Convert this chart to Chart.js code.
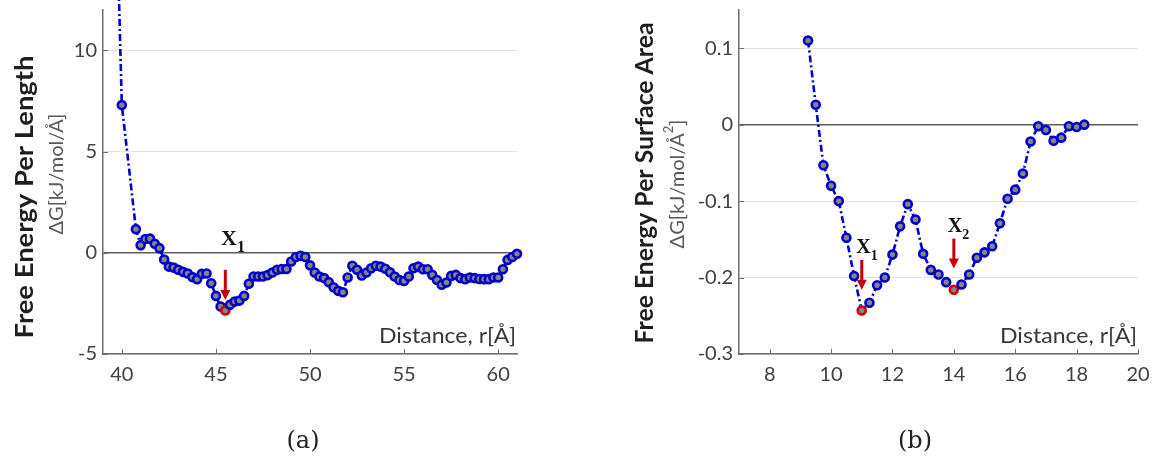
<!DOCTYPE html>
<html><head><meta charset="utf-8">
<script src="https://cdn.jsdelivr.net/npm/chart.js@4.4.1/dist/chart.umd.min.js"></script>
<style>
html,body{margin:0;padding:0;background:#fff;width:1152px;height:465px;overflow:hidden}
canvas{position:absolute;top:0}
#ca{left:0}#cb{left:576px}
</style></head><body>
<canvas id="ca" width="576" height="465"></canvas>
<canvas id="cb" width="576" height="465"></canvas>
<script>
// ---- (a) Free energy per length ----
const distanceA = [39.75, 40, 40.75, 41, 41.25, 41.5, 41.75, 42, 42.25, 42.5, 42.75, 43, 43.25, 43.5, 43.75, 44, 44.25, 44.5, 44.75,
  45, 45.25, 45.5, 45.75, 46, 46.25, 46.5, 46.75, 47, 47.25, 47.5, 47.75, 48, 48.25, 48.5, 48.75, 49, 49.25, 49.5, 49.75,
  50, 50.25, 50.5, 50.75, 51, 51.25, 51.5, 51.75, 52, 52.25, 52.5, 52.75, 53, 53.25, 53.5, 53.75, 54, 54.25, 54.5, 54.75,
  55, 55.25, 55.5, 55.75, 56, 56.25, 56.5, 56.75, 57, 57.25, 57.5, 57.75, 58, 58.25, 58.5, 58.75, 59, 59.25, 59.5, 59.75,
  60, 60.25, 60.5, 60.75, 61];
const energyA = [16, 7.3, 1.17, 0.38, 0.68, 0.7, 0.45, 0.23, -0.33, -0.68, -0.73, -0.84, -0.94, -1.02, -1.2, -1.3, -1.04, -1.02, -1.5,
  -2.13, -2.65, -2.85, -2.57, -2.41, -2.36, -2.13, -1.53, -1.17, -1.17, -1.17, -1.1, -0.97, -0.84, -0.8, -0.8, -0.43, -0.21, -0.15, -0.21,
  -0.62, -0.97, -1.17, -1.25, -1.45, -1.7, -1.88, -1.95, -1.22, -0.64, -0.84, -1.12, -0.97, -0.76, -0.64, -0.68, -0.79, -0.96, -1.17, -1.34,
  -1.39, -1.17, -0.76, -0.68, -0.81, -0.81, -1.09, -1.34, -1.58, -1.47, -1.14, -1.09, -1.25, -1.3, -1.22, -1.25, -1.29, -1.3, -1.3, -1.22,
  -1.22, -0.81, -0.35, -0.21, -0.05];
const minimaA = [45.5];
const xTicksA = [40, 45, 50, 55, 60];
const yTicksA = [-5, 0, 5, 10];

// ---- (b) Free energy per surface area ----
const distanceB = [9.25, 9.5, 9.75, 10, 10.25, 10.5, 10.75, 11, 11.25, 11.5, 11.75, 12, 12.25, 12.5, 12.75, 13, 13.25, 13.5, 13.75,
  14, 14.25, 14.5, 14.75, 15, 15.25, 15.5, 15.75, 16, 16.25, 16.5, 16.75, 17, 17.25, 17.5, 17.75, 18, 18.25];
const energyB = [0.110, 0.026, -0.053, -0.080, -0.100, -0.148, -0.198, -0.243, -0.233, -0.210, -0.200, -0.170, -0.133, -0.104, -0.124,
  -0.169, -0.190, -0.196, -0.206, -0.216, -0.209, -0.196, -0.174, -0.167, -0.159, -0.129, -0.097, -0.085, -0.064, -0.022, -0.002,
  -0.007, -0.021, -0.017, -0.002, -0.003, 0.000];
const minimaB = [11, 14];
const xTicksB = [8, 10, 12, 14, 16, 18, 20];
const yTicksB = [-0.3, -0.2, -0.1, 0, 0.1];

const BLUE = '#0000cc', RED = '#d00000', TICKCOL = '#404040';

// draw text horizontally stretched/compressed to a target width (text stays text)
function fitText(ctx, text, x, y, font, target) {
  ctx.font = font;
  const w = ctx.measureText(text).width;
  const k = target / w;
  ctx.save(); ctx.translate(x, y); ctx.scale(k, 1);
  ctx.fillText(text, 0, 0);
  ctx.restore();
}

const decorPlugin = {
  id: 'decor',
  afterDraw(chart, args, o) {
    const ctx = chart.ctx, a = chart.chartArea, xs = chart.scales.x, ys = chart.scales.y;
    ctx.save();
    // inward tick marks
    ctx.strokeStyle = '#6e6e6e'; ctx.lineWidth = 1;
    xs.ticks.forEach(t => {
      const px = Math.round(xs.getPixelForValue(t.value)) + 0.5;
      ctx.beginPath(); ctx.moveTo(px, a.bottom); ctx.lineTo(px, a.bottom - 5); ctx.stroke();
    });
    ys.ticks.forEach(t => {
      const py = Math.round(ys.getPixelForValue(t.value)) + 0.5;
      ctx.beginPath(); ctx.moveTo(a.left, py); ctx.lineTo(a.left + 5, py); ctx.stroke();
    });
    // y titles
    ctx.save();
    ctx.translate(o.titlePos[0], o.titlePos[1]); ctx.rotate(-Math.PI / 2);
    ctx.fillStyle = '#1e1e1e'; ctx.textAlign = 'center'; ctx.textBaseline = 'middle';
    fitText(ctx, o.title, 0, 0, 'bold 24px Lato', o.titleLen);
    ctx.restore();
    ctx.save();
    ctx.translate(o.unitPos[0], o.unitPos[1]); ctx.rotate(-Math.PI / 2);
    ctx.fillStyle = '#595959'; ctx.textBaseline = 'middle'; ctx.textAlign = 'left';
    ctx.font = '20px Lato';
    const w1 = ctx.measureText(o.unit[0]).width;
    ctx.font = '13px Lato';
    const w2 = o.unit[1] ? ctx.measureText(o.unit[1]).width : 0;
    ctx.font = '20px Lato';
    const w3 = o.unit[2] ? ctx.measureText(o.unit[2]).width : 0;
    let sx = -(w1 + w2 + w3) / 2;
    ctx.fillText(o.unit[0], sx, 0); sx += w1;
    if (o.unit[1]) { ctx.font = '13px Lato'; ctx.fillText(o.unit[1], sx, -9); sx += w2; }
    if (o.unit[2]) { ctx.font = '20px Lato'; ctx.fillText(o.unit[2], sx, 0); }
    ctx.restore();
    // x title inside plot
    ctx.fillStyle = '#383838'; ctx.textAlign = 'right'; ctx.textBaseline = 'alphabetic';
    fitText(ctx, 'Distance, r[Å]', a.right - 1, a.bottom - 11, '21px Lato', 137);
    // caption
    ctx.font = '24px "DejaVu Serif"'; ctx.fillStyle = '#222';
    ctx.textAlign = 'center'; ctx.textBaseline = 'middle';
    ctx.fillText(o.caption, o.captionPos[0], o.captionPos[1]);
    // minima arrows and labels
    o.marks.forEach(m => {
      const px = xs.getPixelForValue(m.x);
      const y1 = ys.getPixelForValue(m.top), y2 = ys.getPixelForValue(m.tip);
      ctx.strokeStyle = '#c40000'; ctx.fillStyle = '#c40000'; ctx.lineWidth = 3;
      ctx.beginPath(); ctx.moveTo(px, y1); ctx.lineTo(px, y2 - 8); ctx.stroke();
      ctx.beginPath(); ctx.moveTo(px - 5, y2 - 10); ctx.lineTo(px + 5, y2 - 10); ctx.lineTo(px, y2); ctx.closePath(); ctx.fill();
      const lx = xs.getPixelForValue(m.lx), ly = ys.getPixelForValue(m.ly);
      ctx.fillStyle = '#111'; ctx.textAlign = 'left'; ctx.textBaseline = 'alphabetic';
      ctx.font = 'bold ' + o.labelSize + 'px "Liberation Serif"';
      ctx.fillText('X', lx, ly);
      const wx = ctx.measureText('X').width;
      ctx.font = 'bold ' + Math.round(o.labelSize * 0.72) + 'px "Liberation Serif"';
      ctx.fillText(m.sub, lx + wx, ly + 7);
    });
    ctx.restore();
  }
};

function makeChart(id, xsData, ysData, minima, xTicks, yTicks, xr, yr, deco) {
  const pts = xsData.map((x, i) => ({ x: x, y: ysData[i] }));
  const isMin = xsData.map(x => minima.includes(x));
  return new Chart(document.getElementById(id), {
    type: 'line',
    data: { datasets: [{
      data: pts, borderColor: BLUE, borderWidth: 2.6, borderDash: [7, 3, 2, 3],
      pointRadius: 4, pointBorderWidth: 2.6, pointBackgroundColor: '#858585',
      pointBorderColor: isMin.map(m => m ? RED : BLUE), tension: 0, fill: false,
      clip: { left: 6, top: 12, right: 8, bottom: 6 }
    }] },
    options: {
      responsive: false, animation: false, events: [],
      layout: { padding: { top: deco.padTop, right: deco.padRight, left: 0, bottom: 0 } },
      plugins: { legend: { display: false }, tooltip: { enabled: false }, decor: deco },
      scales: {
        x: {
          type: 'linear', min: xr[0], max: xr[1],
          afterBuildTicks: s => { s.ticks = xTicks.map(v => ({ value: v })); },
          afterFit: s => { s.height = deco.bottomH; s.paddingLeft = 0; s.paddingRight = 0; s.paddingTop = 0; s.paddingBottom = 0; },
          grid: { display: true, drawOnChartArea: false, drawTicks: false },
          border: { color: '#6e6e6e', width: 1.5 },
          ticks: { padding: 9, color: TICKCOL, font: { family: 'Lato', size: 20 }, callback: v => String(v), maxRotation: 0, autoSkip: false }
        },
        y: {
          type: 'linear', min: yr[0], max: yr[1],
          afterBuildTicks: s => { s.ticks = yTicks.map(v => ({ value: v })); },
          afterFit: s => { s.width = deco.leftW; s.paddingLeft = 0; s.paddingRight = 0; s.paddingTop = 0; s.paddingBottom = 0; },
          grid: {
            drawTicks: false,
            color: c => (c.tick && c.tick.value === 0) ? '#5e5e5e' : '#e2e2e2',
            lineWidth: c => (c.tick && c.tick.value === 0) ? 1.6 : 1
          },
          border: { color: '#6e6e6e', width: 1.5 },
          ticks: { padding: 6, color: TICKCOL, font: { family: 'Lato', size: 20 }, callback: v => String(v), autoSkip: false }
        }
      }
    },
    plugins: [decorPlugin]
  });
}

makeChart('ca', distanceA, energyA, minimaA, xTicksA, yTicksA, [39, 61], [-5, 12], {
  padTop: 10, padRight: 59, leftW: 103, bottomH: 111,
  title: 'Free Energy Per Length', titleLen: 283, titlePos: [25, 197],
  unit: ['ΔG[kJ/mol/Å]', '', ''], unitPos: [57, 174],
  caption: '(a)', captionPos: [303, 442], labelSize: 22,
  marks: [{ x: 45.5, top: -0.84, tip: -2.33, lx: 45.27, ly: 0.4, sub: '1' }]
});

makeChart('cb', distanceB, energyB, minimaB, xTicksB, yTicksB, [7, 20], [-0.3, 0.15], {
  padTop: 10, padRight: 14, leftW: 163, bottomH: 111,
  title: 'Free Energy Per Surface Area', titleLen: 321, titlePos: [69, 183],
  unit: ['ΔG[kJ/mol/Å', '2', ']'], unitPos: [102, 184],
  caption: '(b)', captionPos: [339, 442], labelSize: 20,
  marks: [
    { x: 11, top: -0.177, tip: -0.216, lx: 10.82, ly: -0.168, sub: '1' },
    { x: 14, top: -0.149, tip: -0.188, lx: 13.8, ly: -0.141, sub: '2' }
  ]
});
</script>
</body></html>
